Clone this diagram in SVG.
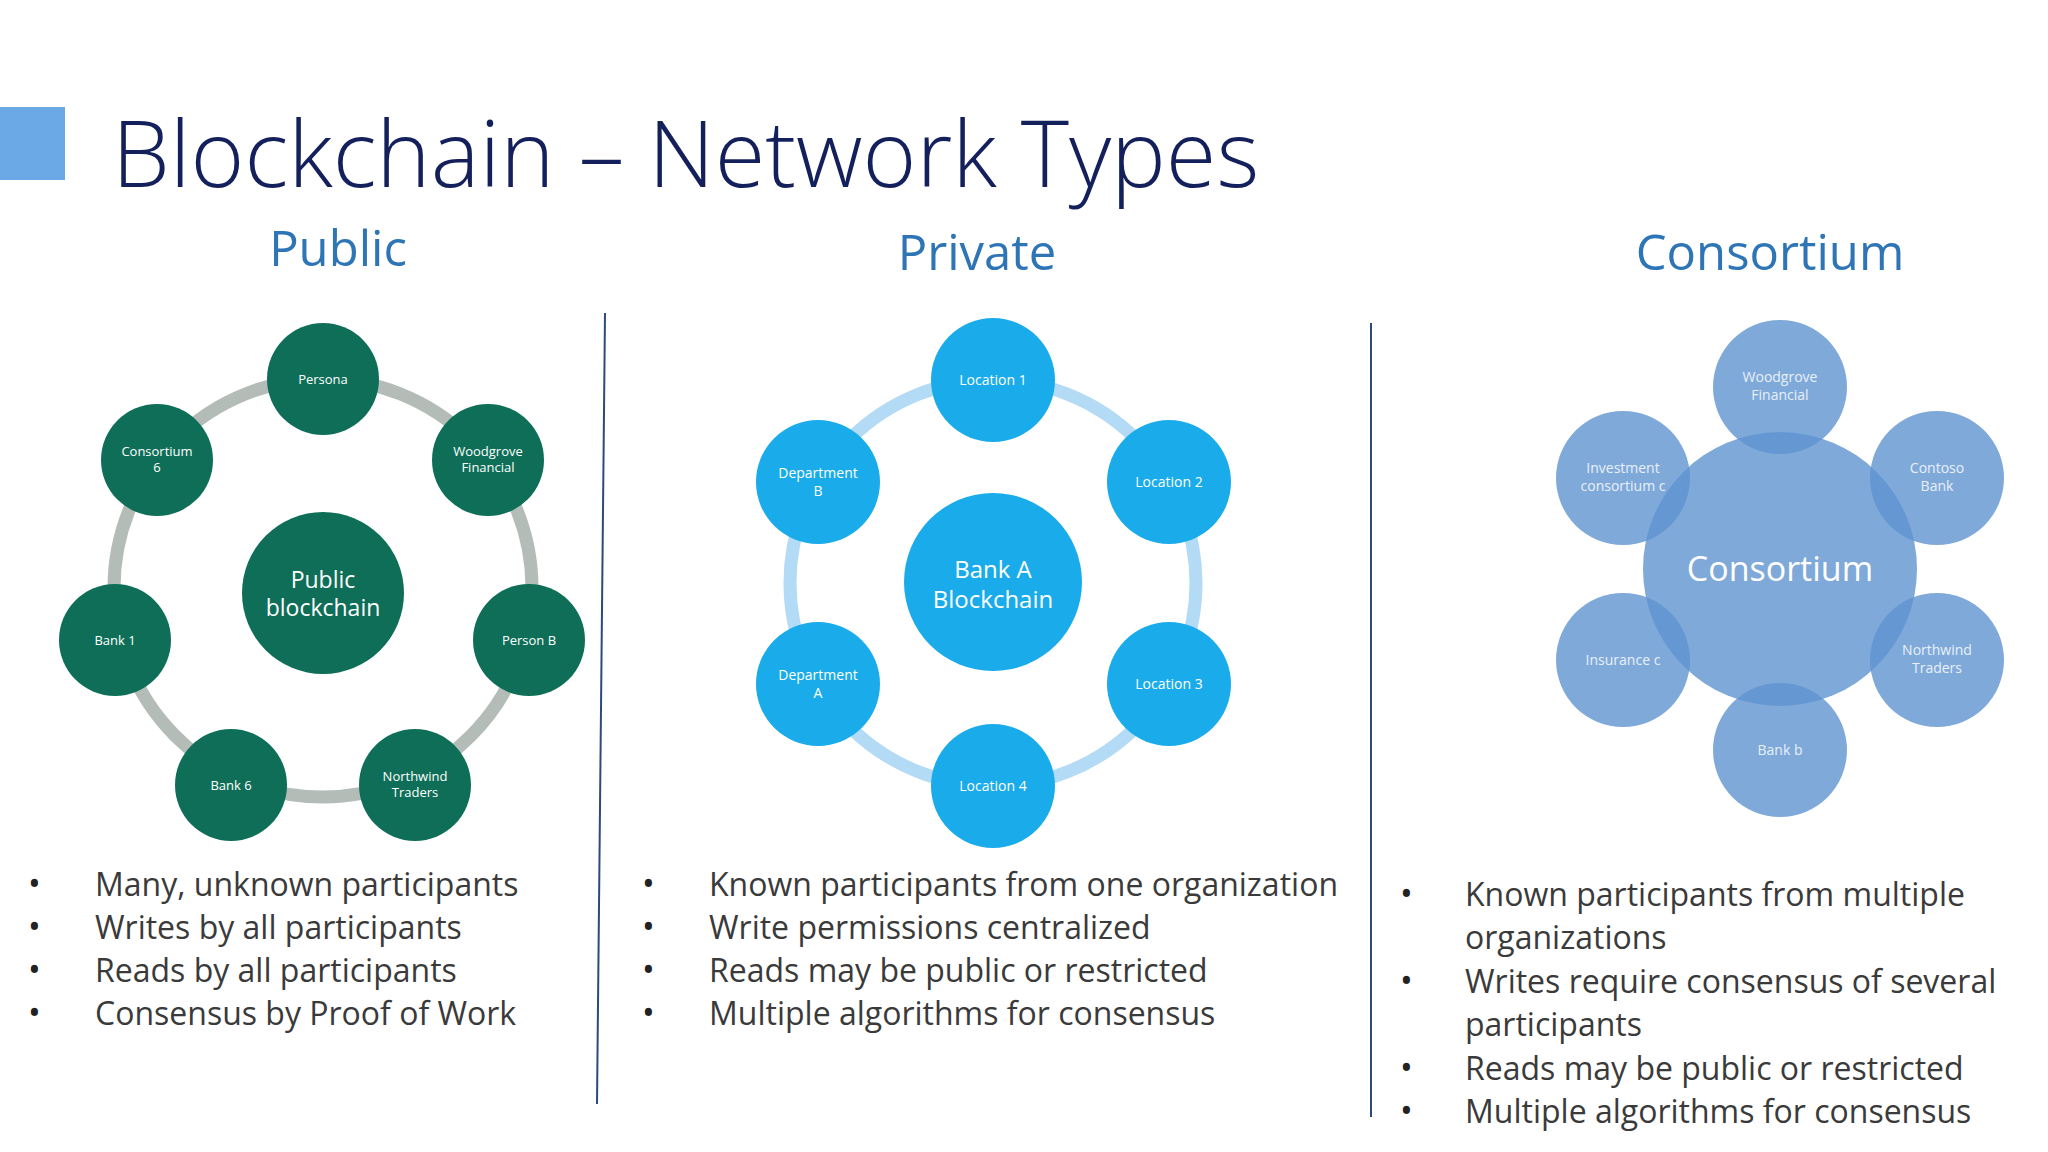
<svg xmlns="http://www.w3.org/2000/svg" width="2048" height="1152" viewBox="0 0 2048 1152">
<style>
text{font-family:"Open Sans","Noto Sans","Liberation Sans",sans-serif}
.h{font-size:49px;fill:#2e75b6;text-anchor:middle}
.g{fill:#0e6e58}
.b{fill:#1aabea}
.c{fill:#5f93d0;fill-opacity:.8}
.n{fill:#fff;font-size:13px;text-anchor:middle}
.m{font-size:14px}
.nc{fill:#e8f0fa;font-size:14px;text-anchor:middle}
.bl{font-size:32px;fill:#3a3a3a}
.dot{font-size:34px;fill:#222}
</style>
<rect width="2048" height="1152" fill="#fff"/>
<rect x="0" y="107" width="65" height="73" fill="#6aa9e6"/>
<text x="112" y="187" style="font-size:92px" fill="#14205c" font-weight="300">Blockchain – Network Types</text>
<text class="h" x="338" y="266">Public</text>
<text class="h" x="977" y="270">Private</text>
<text class="h" x="1770" y="270">Consortium</text>
<g id="connectors">
<line x1="605" y1="313" x2="597" y2="1104" stroke="#2e4a7a" stroke-width="2"/>
<line x1="1371" y1="323" x2="1371" y2="1117" stroke="#2e4a7a" stroke-width="2"/>
<circle cx="323" cy="588" r="209" fill="none" stroke="#b4bcb8" stroke-width="13"/>
<circle cx="993" cy="583" r="203" fill="none" stroke="#b3dbf5" stroke-width="13"/>
</g>
<g id="public-center"><circle class="g" cx="323" cy="593" r="81"/><text class="n" x="323" y="588" style="font-size:23px">Public</text><text class="n" x="323" y="616" style="font-size:23px">blockchain</text></g>
<g id="persona"><circle class="g" cx="323" cy="379" r="56"/><text class="n" x="323" y="384">Persona</text></g>
<g id="woodgrove"><circle class="g" cx="488" cy="460" r="56"/><text class="n" x="488" y="456">Woodgrove</text><text class="n" x="488" y="472">Financial</text></g>
<g id="personb"><circle class="g" cx="529" cy="640" r="56"/><text class="n" x="529" y="645">Person B</text></g>
<g id="northwind"><circle class="g" cx="415" cy="785" r="56"/><text class="n" x="415" y="781">Northwind</text><text class="n" x="415" y="797">Traders</text></g>
<g id="bank6"><circle class="g" cx="231" cy="785" r="56"/><text class="n" x="231" y="790">Bank 6</text></g>
<g id="bank1"><circle class="g" cx="115" cy="640" r="56"/><text class="n" x="115" y="645">Bank 1</text></g>
<g id="consortium6"><circle class="g" cx="157" cy="460" r="56"/><text class="n" x="157" y="456">Consortium</text><text class="n" x="157" y="472">6</text></g>
<g id="private-center"><circle class="b" cx="993" cy="582" r="89"/><text class="n" x="993" y="578" style="font-size:24px">Bank A</text><text class="n" x="993" y="608" style="font-size:24px">Blockchain</text></g>
<g id="loc1"><circle class="b" cx="993" cy="380" r="62"/><text class="n m" x="993" y="385">Location 1</text></g>
<g id="loc2"><circle class="b" cx="1169" cy="482" r="62"/><text class="n m" x="1169" y="487">Location 2</text></g>
<g id="loc3"><circle class="b" cx="1169" cy="684" r="62"/><text class="n m" x="1169" y="689">Location 3</text></g>
<g id="loc4"><circle class="b" cx="993" cy="786" r="62"/><text class="n m" x="993" y="791">Location 4</text></g>
<g id="depta"><circle class="b" cx="818" cy="684" r="62"/><text class="n m" x="818" y="680">Department</text><text class="n m" x="818" y="698">A</text></g>
<g id="deptb"><circle class="b" cx="818" cy="482" r="62"/><text class="n m" x="818" y="478">Department</text><text class="n m" x="818" y="496">B</text></g>
<g id="consortium-center"><circle class="c" cx="1780" cy="569" r="137"/></g>
<g id="c-woodgrove"><circle class="c" cx="1780" cy="387" r="67"/><text class="nc" x="1780" y="382">Woodgrove</text><text class="nc" x="1780" y="400">Financial</text></g>
<g id="c-contoso"><circle class="c" cx="1937" cy="478" r="67"/><text class="nc" x="1937" y="473">Contoso</text><text class="nc" x="1937" y="491">Bank</text></g>
<g id="c-northwind"><circle class="c" cx="1937" cy="660" r="67"/><text class="nc" x="1937" y="655">Northwind</text><text class="nc" x="1937" y="673">Traders</text></g>
<g id="c-bankb"><circle class="c" cx="1780" cy="750" r="67"/><text class="nc" x="1780" y="755">Bank b</text></g>
<g id="c-insurance"><circle class="c" cx="1623" cy="660" r="67"/><text class="nc" x="1623" y="665">Insurance c</text></g>
<g id="c-investment"><circle class="c" cx="1623" cy="478" r="67"/><text class="nc" x="1623" y="473">Investment</text><text class="nc" x="1623" y="491">consortium c</text></g>
<text class="n" x="1780" y="581" style="font-size:34px">Consortium</text>
<g id="public-bullets">
<text class="dot" x="28" y="896">•</text><text class="bl" x="95" y="896">Many, unknown participants</text>
<text class="dot" x="28" y="939">•</text><text class="bl" x="95" y="939">Writes by all participants</text>
<text class="dot" x="28" y="982">•</text><text class="bl" x="95" y="982">Reads by all participants</text>
<text class="dot" x="28" y="1025">•</text><text class="bl" x="95" y="1025">Consensus by Proof of Work</text>
</g>
<g id="private-bullets">
<text class="dot" x="642" y="896">•</text><text class="bl" x="709" y="896">Known participants from one organization</text>
<text class="dot" x="642" y="939">•</text><text class="bl" x="709" y="939">Write permissions centralized</text>
<text class="dot" x="642" y="982">•</text><text class="bl" x="709" y="982">Reads may be public or restricted</text>
<text class="dot" x="642" y="1025">•</text><text class="bl" x="709" y="1025">Multiple algorithms for consensus</text>
</g>
<g id="consortium-bullets">
<text class="dot" x="1400" y="906">•</text><text class="bl" x="1465" y="906">Known participants from multiple</text>
<text class="bl" x="1465" y="949">organizations</text>
<text class="dot" x="1400" y="993">•</text><text class="bl" x="1465" y="993">Writes require consensus of several</text>
<text class="bl" x="1465" y="1036">participants</text>
<text class="dot" x="1400" y="1080">•</text><text class="bl" x="1465" y="1080">Reads may be public or restricted</text>
<text class="dot" x="1400" y="1123">•</text><text class="bl" x="1465" y="1123">Multiple algorithms for consensus</text>
</g>
</svg>
